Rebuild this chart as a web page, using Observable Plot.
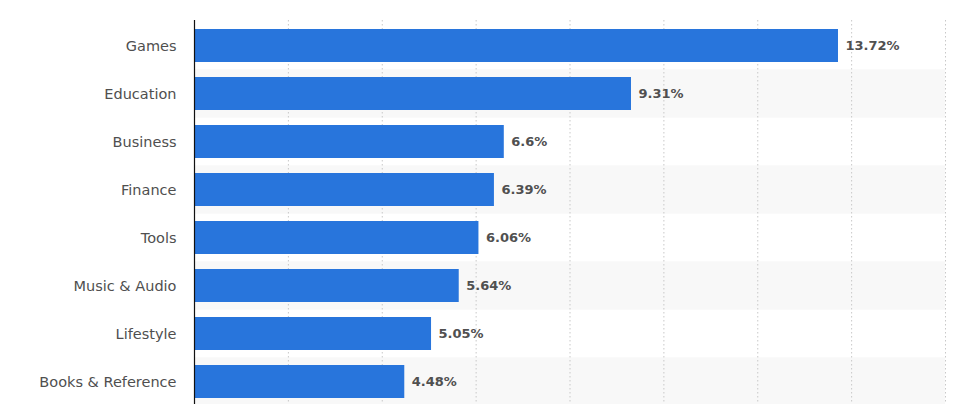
<!DOCTYPE html>
<html>
<head>
<meta charset="utf-8">
<script src="https://cdn.jsdelivr.net/npm/d3@7"></script>
<script src="https://cdn.jsdelivr.net/npm/@observablehq/plot@0.6"></script>
<style>
  html, body { margin: 0; padding: 0; background: #fff; overflow: hidden; }
</style>
</head>
<body>
<div id="chart"></div>
<script>
const categories = ["Games", "Education", "Business", "Finance", "Tools", "Music & Audio", "Lifestyle", "Books & Reference"];
const shares = [13.72, 9.31, 6.6, 6.39, 6.06, 5.64, 5.05, 4.48];
const labels = ["13.72%", "9.31%", "6.6%", "6.39%", "6.06%", "5.64%", "5.05%", "4.48%"];
const gridTicks = [2, 4, 6, 8, 10, 12, 14, 16];
const shadedRows = ["Education", "Finance", "Music & Audio", "Books & Reference"];

const data = categories.map((c, i) => ({category: c, value: shares[i], label: labels[i]}));

const chart = Plot.plot({
  width: 974,
  height: 410,
  marginLeft: 194,
  marginRight: 29,
  marginTop: 20,
  marginBottom: 4,
  style: {fontFamily: "DejaVu Sans", fontSize: "14.5px", color: "#4f4f4f", background: "#fff"},
  x: {domain: [0, 16], axis: null},
  y: {domain: categories, paddingInner: 0.317, paddingOuter: 0.1585, label: null, tickSize: 0, tickPadding: 18},
  marks: [
    Plot.barX(shadedRows, {y: d => d, x1: 0, x2: 16, fill: "#f8f8f8", insetTop: -7.65, insetBottom: -7.65}),
    Plot.ruleX(gridTicks, {stroke: "#c8c8c8", strokeDasharray: "1.5,2.5"}),
    Plot.barX(data, {y: "category", x: "value", fill: "#2875dc"}),
    Plot.text(data, {y: "category", x: "value", text: "label", dx: 7, textAnchor: "start", fill: "#505050", fontWeight: "bold", fontSize: 13}),
    Plot.ruleX([0], {stroke: "#111", strokeWidth: 1.2})
  ]
});
document.getElementById("chart").appendChild(chart);
</script>
</body>
</html>
